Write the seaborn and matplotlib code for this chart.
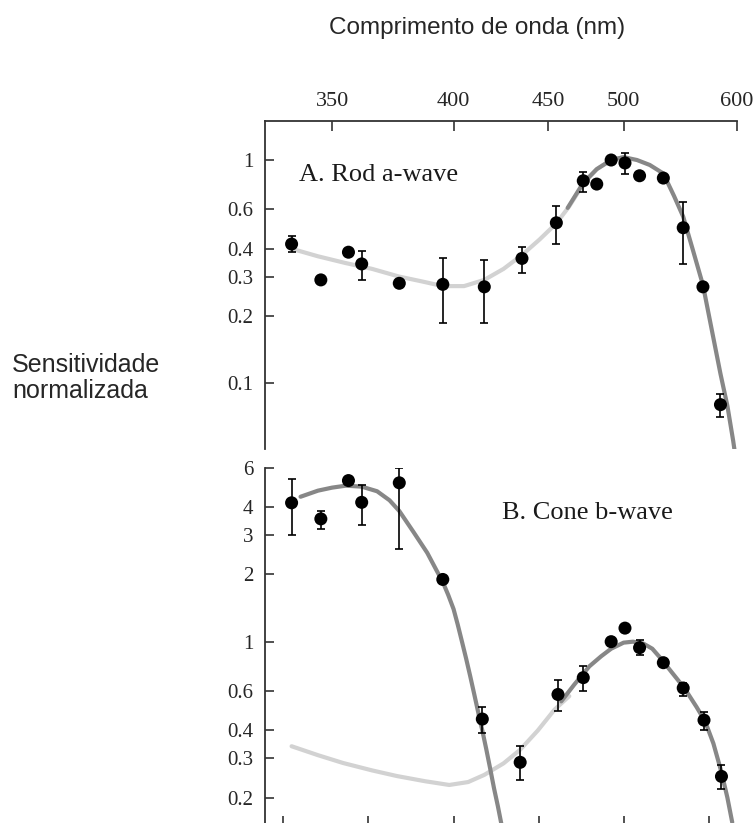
import numpy as np
import matplotlib
matplotlib.use("Agg")
import matplotlib.pyplot as plt
from matplotlib.ticker import NullLocator
import seaborn as sns

# Eixo de cima (nm), espaçado linearmente em 1/lambda
ticks_nm = [350, 400, 450, 500, 600]
ticks_baixo_nm = [333.3, 363.6, 400, 444.4, 500, 571.4]

# A. Rod a-wave: pontos medidos (nan = sem barra de erro)
a_lam = [336, 346, 356, 361, 376, 395, 415, 435, 455, 472, 481, 491, 501, 512, 531, 548, 566, 583]
a_val = [0.42, 0.29, 0.386, 0.342, 0.28, 0.277, 0.27, 0.362, 0.523, 0.807, 0.78, 1.0, 0.97, 0.85, 0.83, 0.497, 0.27, 0.08]
a_lo = [0.386, np.nan, np.nan, 0.29, np.nan, 0.186, 0.185, 0.31, 0.42, 0.72, np.nan, np.nan, 0.863, np.nan, np.nan, 0.34, np.nan, 0.0706]
a_hi = [0.456, np.nan, np.nan, 0.392, np.nan, 0.365, 0.356, 0.409, 0.622, 0.887, np.nan, np.nan, 1.08, np.nan, np.nan, 0.65, np.nan, 0.089]

# A. curvas ajustadas
a_claro_lam = [336, 345, 355, 365, 376, 386, 395, 405, 415, 425, 435, 445, 455, 463, 472, 481, 491, 500]
a_claro_val = [0.40, 0.37, 0.345, 0.325, 0.30, 0.285, 0.272, 0.272, 0.29, 0.325, 0.375, 0.44, 0.52, 0.62, 0.78, 0.91, 1.0, 1.03]
a_escuro_lam = [462, 472, 481, 491, 500, 510, 520, 531, 540, 548, 557, 566, 575, 583, 590, 596, 598]
a_escuro_val = [0.61, 0.79, 0.91, 1.0, 1.03, 1.0, 0.95, 0.87, 0.69, 0.557, 0.39, 0.275, 0.168, 0.11, 0.079, 0.055, 0.048]

# B. Cone b-wave: pontos medidos
b_lam = [336, 346, 356, 361, 376, 395, 414, 434, 456, 472, 491, 501, 512, 531, 548, 567, 584]
b_val = [4.19, 3.55, 5.27, 4.21, 5.15, 1.9, 0.45, 0.288, 0.58, 0.69, 1.0, 1.15, 0.94, 0.805, 0.62, 0.445, 0.249]
b_lo = [3.0, 3.21, np.nan, 3.32, 2.59, np.nan, 0.39, 0.239, 0.488, 0.60, np.nan, np.nan, 0.875, np.nan, 0.57, 0.40, 0.218]
b_hi = [5.33, 3.87, np.nan, 5.06, 6.0, np.nan, 0.51, 0.34, 0.67, 0.78, np.nan, np.nan, 1.02, np.nan, 0.655, 0.483, 0.281]

# B. curvas ajustadas
b_uv_lam = [339, 345, 350, 355, 361, 367, 372, 376, 382, 388, 392, 395, 397.5, 400, 402, 404, 406,
            408, 410, 412, 414, 416, 418, 420, 422, 424]
b_uv_val = [4.46, 4.75, 4.9, 5.0, 4.95, 4.72, 4.3, 3.85, 3.1, 2.5, 2.1, 1.85, 1.62, 1.4, 1.19, 1.0, 0.84,
            0.7, 0.58, 0.48, 0.40, 0.33, 0.27, 0.22, 0.183, 0.15]
b_claro_lam = [336, 345, 354, 365, 375, 387, 398, 407, 415, 425, 434, 444, 454, 463]
b_claro_val = [0.34, 0.31, 0.286, 0.265, 0.25, 0.237, 0.228, 0.235, 0.253, 0.285, 0.328, 0.40, 0.497, 0.57]
b_m_lam = [458, 466, 476, 484, 491, 500, 507, 515, 522, 529, 538, 549, 560, 568, 576, 584, 590, 595]
b_m_val = [0.54, 0.64, 0.775, 0.86, 0.93, 0.99, 1.0, 0.98, 0.93, 0.84, 0.73, 0.62, 0.51, 0.44, 0.35, 0.26, 0.20, 0.155]

a_yticks = [1, 0.6, 0.4, 0.3, 0.2, 0.1]
b_yticks = [6, 4, 3, 2, 1, 0.6, 0.4, 0.3, 0.2]

CINZA_CLARO = "#d2d2d2"
CINZA_ESCURO = "#878787"
COR_EIXO = "#333333"

sns.set_style("ticks")
plt.rcParams["font.family"] = ["Liberation Serif", "DejaVu Serif"]


def inv_lam(x):
    # escala em numero de onda: -1000/lambda (crescente com lambda)
    x = np.asarray(x, dtype=float)
    with np.errstate(divide="ignore", invalid="ignore"):
        return -1000.0 / x


W, H = 755, 823
fig = plt.figure(figsize=(W / 100, H / 100), dpi=100)
esq, dir_ = 265, 737
ax_a = fig.add_axes([esq / W, 1 - 449 / H, (dir_ - esq) / W, (449 - 121) / H])
ax_b = fig.add_axes([esq / W, 0, (dir_ - esq) / W, (823 - 468) / H])


def pontos(ax, lam, val, lo, hi):
    lam, val, lo, hi = map(np.asarray, (lam, val, lo, hi))
    m = ~np.isnan(lo)
    ax.errorbar(lam[m], val[m], yerr=[val[m] - lo[m], hi[m] - val[m]], fmt="none",
                ecolor="black", elinewidth=1.2, capsize=2.6, capthick=1.2, zorder=3)
    sns.scatterplot(x=lam, y=val, ax=ax, color="black", s=88, edgecolor="none",
                    zorder=4, legend=False)


def curva(ax, lam, val, cor):
    sns.lineplot(x=lam, y=val, ax=ax, color=cor, lw=3, sort=False,
                 estimator=None, zorder=2)


for ax in (ax_a, ax_b):
    ax.set_xscale("function", functions=(inv_lam, inv_lam))
    ax.set_yscale("log")
    ax.set_xlim(327.4, 600)
    ax.xaxis.set_minor_locator(NullLocator())
    ax.yaxis.set_minor_locator(NullLocator())
    ax.spines["right"].set_visible(False)
    ax.spines["left"].set_color(COR_EIXO)
    ax.spines["left"].set_linewidth(1.3)
    ax.tick_params(axis="y", direction="in", length=6.5, width=1.2, color=COR_EIXO,
                   labelsize=15, pad=8.5)

# Painel A
curva(ax_a, a_claro_lam, a_claro_val, CINZA_CLARO)
curva(ax_a, a_escuro_lam, a_escuro_val, CINZA_ESCURO)
pontos(ax_a, a_lam, a_val, a_lo, a_hi)
ax_a.set_ylim(0.0506, 1.496)
ax_a.set_yticks(a_yticks)
ax_a.set_yticklabels([f"{v:g}" for v in a_yticks])
ax_a.spines["bottom"].set_visible(False)
ax_a.spines["top"].set_color(COR_EIXO)
ax_a.spines["top"].set_linewidth(1.3)
ax_a.set_xticks(ticks_nm)
ax_a.set_xticklabels([str(t) for t in ticks_nm])
ax_a.tick_params(axis="x", which="both", top=True, bottom=False, labeltop=True,
                 labelbottom=False, direction="in", length=7.5, width=1.2,
                 color=COR_EIXO, labelsize=16, pad=7)

# Painel B
curva(ax_b, b_claro_lam, b_claro_val, CINZA_CLARO)
curva(ax_b, b_uv_lam, b_uv_val, CINZA_ESCURO)
curva(ax_b, b_m_lam, b_m_val, CINZA_ESCURO)
pontos(ax_b, b_lam, b_val, b_lo, b_hi)
ax_b.set_ylim(0.154, 6.0)
ax_b.set_yticks(b_yticks)
ax_b.set_yticklabels([f"{v:g}" for v in b_yticks])
ax_b.spines["top"].set_visible(False)
ax_b.spines["bottom"].set_visible(False)
ax_b.set_xticks(ticks_baixo_nm)
ax_b.set_xticklabels([])
ax_b.tick_params(axis="x", which="both", top=False, bottom=True, labelbottom=False,
                 direction="in", length=5, width=1.2, color=COR_EIXO)

for ax in (ax_a, ax_b):
    ax.set_xlabel("")
    ax.set_ylabel("")
    ax.patch.set_visible(False)

# Rotulos dos paineis
fig.text(299 / W, 1 - 181 / H, "A. Rod a-wave", fontsize=19, va="baseline", ha="left",
         color="#1a1a1a")
fig.text(502 / W, 1 - 519 / H, "B. Cone b-wave", fontsize=19, va="baseline", ha="left",
         color="#1a1a1a")

# Titulos em portugues
fig.text(477 / W, 1 - 28 / H, "Comprimento de onda (nm)", fontsize=17.5,
         family=["Liberation Sans", "DejaVu Sans"], ha="center", va="center")
fig.text(12 / W, 1 - 378 / H, "Sensitividade\nnormalizada", fontsize=18,
         family=["Liberation Sans", "DejaVu Sans"], ha="left", va="center",
         linespacing=1.15)

fig.savefig("out.png", dpi=100)
